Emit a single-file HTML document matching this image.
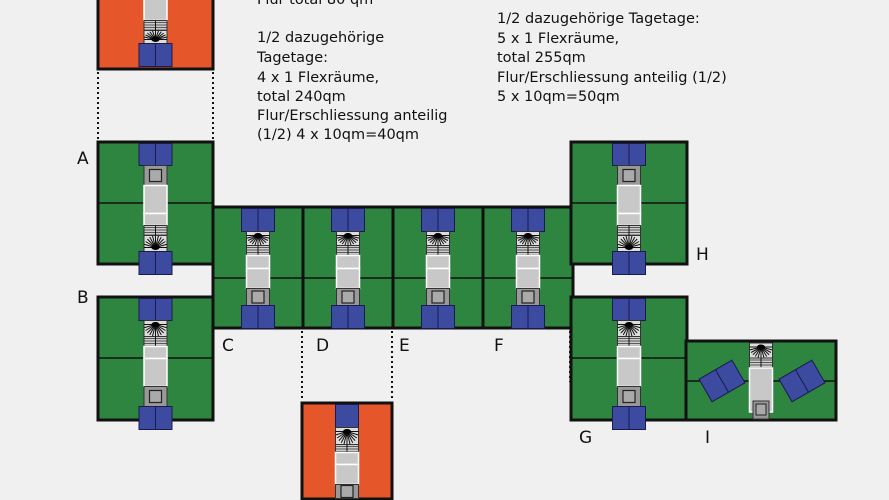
<!DOCTYPE html>
<html><head><meta charset="utf-8"><style>
html,body{margin:0;background:#f0f0f0;width:889px;height:500px;overflow:hidden}
svg{display:block}
text{font-family:"DejaVu Sans","Liberation Sans",sans-serif;font-size:14.5px;fill:#111}
.l{font-size:17px}
</style></head><body>
<svg id="s" width="889" height="500" viewBox="0 0 889 500" xmlns="http://www.w3.org/2000/svg">
<rect width="889" height="500" fill="#f0f0f0"/>
<g id="g"></g>
<g stroke="#111" stroke-width="2" stroke-dasharray="2,3">
<line x1="98" y1="72" x2="98" y2="140"/><line x1="213" y1="72" x2="213" y2="140"/>
<line x1="302" y1="331" x2="302" y2="400"/><line x1="392" y1="331" x2="392" y2="400"/>
<line x1="570" y1="331" x2="570" y2="382"/>
</g>
<text x="257" y="4">Flur total 80 qm</text>
<text x="257" y="42">1/2 dazugehörige</text>
<text x="257" y="62">Tagetage:</text>
<text x="257" y="82">4 x 1 Flexräume,</text>
<text x="257" y="101">total 240qm</text>
<text x="257" y="120">Flur/Erschliessung anteilig</text>
<text x="257" y="139">(1/2)  4 x 10qm=40qm</text>
<text x="497" y="23">1/2 dazugehörige Tagetage:</text>
<text x="497" y="43">5 x 1 Flexräume,</text>
<text x="497" y="62">total 255qm</text>
<text x="497" y="82">Flur/Erschliessung anteilig (1/2)</text>
<text x="497" y="101">5 x 10qm=50qm</text>
<text class="l" x="77" y="164">A</text>
<text class="l" x="77" y="303">B</text>
<text class="l" x="222" y="351">C</text>
<text class="l" x="316" y="351">D</text>
<text class="l" x="399" y="351">E</text>
<text class="l" x="494" y="351">F</text>
<text class="l" x="696" y="260">H</text>
<text class="l" x="579" y="443">G</text>
<text class="l" x="705" y="443">I</text>
</svg>
<script>
var NS="http://www.w3.org/2000/svg",G=document.getElementById('g');
function el(t,a){var e=document.createElementNS(NS,t);for(var k in a)e.setAttribute(k,a[k]);G.appendChild(e);return e;}
function star(cx,y,w,h,up){
 el('rect',{x:cx-w/2,y:y,width:w,height:h,fill:'#ddd',stroke:'#333','stroke-width':1});
 var oy=up?y+h-4:y+4;
 for(var i=0;i<=12;i++){var a=Math.PI*i/12;var dx=Math.cos(a)*w/2,dy=Math.sin(a)*(h-4);
  el('line',{x1:cx,y1:oy,x2:cx+dx,y2:up?oy-dy:oy+dy,stroke:'#111','stroke-width':1});}
 el('ellipse',{cx:cx,cy:oy,rx:4,ry:2.5,fill:'#000'});
}
function stripes(cx,y,w,h){el('rect',{x:cx-w/2,y:y,width:w,height:h,fill:'#ccc',stroke:'#333','stroke-width':1});
 for(var yy=y+2;yy<y+h;yy+=2.5)el('line',{x1:cx-w/2,y1:yy,x2:cx+w/2,y2:yy,stroke:'#333','stroke-width':0.8});
 el('line',{x1:cx,y1:y,x2:cx,y2:y+h,stroke:'#111','stroke-width':1});}
function box(cx,y,w,h){el('rect',{x:cx-w/2,y:y,width:w,height:h,fill:'#999',stroke:'#333','stroke-width':1});
 el('rect',{x:cx-6,y:y+h/2-6,width:12,height:12,fill:'#aaa',stroke:'#222','stroke-width':1.2});}
function gray(cx,y,w,h){el('rect',{x:cx-w/2,y:y,width:w,height:h,fill:'#c8c8c8',stroke:'#fff','stroke-width':1.5});}
function blue(cx,y,w,h,dbl){el('rect',{x:cx-w/2,y:y,width:w,height:h,fill:'#3c4aa0',stroke:'#1a1a50','stroke-width':1});
 if(dbl)el('line',{x1:cx,y1:y,x2:cx,y2:y+h,stroke:'#1a1a50','stroke-width':1});}
function mod(x,y,w,h,col,segs,mid){
 el('rect',{x:x,y:y,width:w,height:h,fill:col,stroke:'#111','stroke-width':3});
 var cx=x+w/2;
 if(mid)el('line',{x1:x,y1:mid,x2:x+w,y2:mid,stroke:'#111','stroke-width':1.5});
 var yy=y+1.5;
 segs.forEach(function(s){var t=s[0],hh=s[1];
  if(t=='b')blue(cx,yy,33,hh,1);else if(t=='B')blue(cx,yy,23,hh,0);
  else if(t=='s')star(cx,yy,23,hh,0);else if(t=='S')star(cx,yy,23,hh,1);
  else if(t=='t')stripes(cx,yy,23,hh);else if(t=='x')box(cx,yy,23,hh);else if(t=='g')gray(cx,yy,23,hh);
  yy+=hh;});
}
var GR='#2e8540',OR='#e5572a';
var A=[['b',22],['x',20],['g',28],['g',12],['t',10],['S',16],['b',23]];
var Bm=[['b',22],['s',16],['t',10],['g',12],['g',28],['x',20],['b',23]];
var C=[['b',23],['s',14],['t',10],['g',13],['g',20],['x',17],['b',23]];
mod(98,-3,115,72,OR,[['g',22],['t',10],['S',13],['b',23]],0);
mod(98,142,115,122,GR,A,203);
mod(98,297,115,123,GR,Bm,358);
[213,303,393,483].forEach(function(x){mod(x,207,90,121,GR,C,278);});
mod(571,142,116,122,GR,A,203);
mod(571,297,116,123,GR,Bm,358);
el('rect',{x:686,y:341,width:150,height:79,fill:GR,stroke:'#111','stroke-width':3});
el('line',{x1:686,y1:381,x2:836,y2:381,stroke:'#111','stroke-width':1.5});
star(761,343,23,15,0);stripes(761,358,23,10);gray(761,368,23,44);
el('rect',{x:753,y:401,width:16,height:18,fill:'#999',stroke:'#333'});el('rect',{x:756,y:404,width:10,height:11,fill:'#aaa',stroke:'#222'});
[[722,381,-30],[802,381,-30]].forEach(function(p){var g=document.createElementNS(NS,'g');g.setAttribute('transform','translate('+p[0]+','+p[1]+') rotate('+p[2]+')');G.appendChild(g);
 var r=document.createElementNS(NS,'rect');r.setAttribute('x',-19);r.setAttribute('y',-13);r.setAttribute('width',38);r.setAttribute('height',26);r.setAttribute('fill','#3c4aa0');r.setAttribute('stroke','#1a1a50');g.appendChild(r);
 var l=document.createElementNS(NS,'line');l.setAttribute('x1',0);l.setAttribute('y1',-13);l.setAttribute('x2',0);l.setAttribute('y2',13);l.setAttribute('stroke','#1a1a50');g.appendChild(l);});
mod(302,403,90,96,OR,[['B',23],['s',17],['t',8],['g',12],['g',20],['x',14]],0);
</script>
</body></html>
